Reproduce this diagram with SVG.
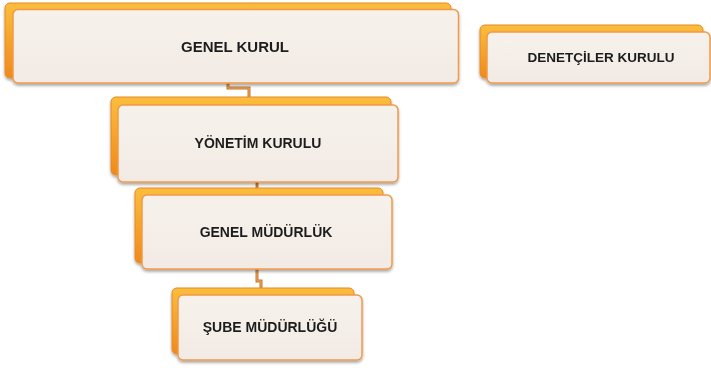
<svg xmlns="http://www.w3.org/2000/svg" width="711" height="368" viewBox="0 0 711 368">
<defs>
<linearGradient id="og" x1="0" y1="0" x2="0" y2="1">
<stop offset="0" stop-color="#fbbd3c"/>
<stop offset="1" stop-color="#f08a1c"/>
</linearGradient>
<linearGradient id="fg" x1="0" y1="0" x2="0" y2="1">
<stop offset="0" stop-color="#f7f1ec"/>
<stop offset="1" stop-color="#f2ebe5"/>
</linearGradient>
<filter id="sh" x="-5%" y="-10%" width="110%" height="130%">
<feGaussianBlur in="SourceAlpha" stdDeviation="1.5"/>
<feOffset dx="0" dy="2" result="b"/>
<feComponentTransfer><feFuncA type="linear" slope="0.35"/></feComponentTransfer>
<feMerge><feMergeNode/><feMergeNode in="SourceGraphic"/></feMerge>
</filter>
</defs>
<style>
.back{fill:url(#og);stroke:#e48a2a;stroke-width:1}
.front{fill:url(#fg);stroke:#ef9a4a;stroke-width:1.5}
.lbl{font-family:"Liberation Sans",Arial,sans-serif;font-weight:bold;fill:#1e1e1e;text-anchor:middle;dominant-baseline:central}
.con{fill:none;stroke:#c47a34;stroke-width:3}
.con2{fill:none;stroke:#f2a558;stroke-width:1}
</style>
<g id="connectors">
<path class="con" d="M228,83 V88 H249 V97"/>
<path class="con2" d="M228,83 V88 H249 V97"/>
<path class="con" d="M257,182 V189"/>
<path class="con" d="M257,269 V281 H261 V289"/>
<path class="con2" d="M257,269 V281 H261 V289"/>
</g>
<g id="genel-kurul" filter="url(#sh)">
<rect class="back" x="5" y="3" width="446" height="75" rx="5"/>
<rect class="front" x="13" y="9.5" width="445.5" height="73.5" rx="5"/>
<text class="lbl" x="235" y="46" font-size="15">GENEL KURUL</text>
</g>
<g id="denetciler-kurulu" filter="url(#sh)">
<rect class="back" x="480" y="25" width="223" height="53" rx="5"/>
<rect class="front" x="487" y="32" width="223" height="51" rx="5"/>
<text class="lbl" x="601" y="57" font-size="13.5">DENETÇİLER KURULU</text>
</g>
<g id="yonetim-kurulu" filter="url(#sh)">
<rect class="back" x="111" y="97" width="280" height="78" rx="5"/>
<rect class="front" x="118" y="105" width="280" height="77" rx="5"/>
<text class="lbl" x="258" y="143" font-size="14">YÖNETİM KURULU</text>
</g>
<g id="genel-mudurluk" filter="url(#sh)">
<rect class="back" x="135" y="188" width="248" height="75" rx="5"/>
<rect class="front" x="142" y="195" width="250" height="74" rx="5"/>
<text class="lbl" x="266" y="232" font-size="14">GENEL MÜDÜRLÜK</text>
</g>
<g id="sube-mudurlugu" filter="url(#sh)">
<rect class="back" x="172" y="288" width="182" height="66" rx="5"/>
<rect class="front" x="178" y="295" width="184" height="65" rx="5"/>
<text class="lbl" x="270" y="327" font-size="14">ŞUBE MÜDÜRLÜĞÜ</text>
</g>
</svg>
